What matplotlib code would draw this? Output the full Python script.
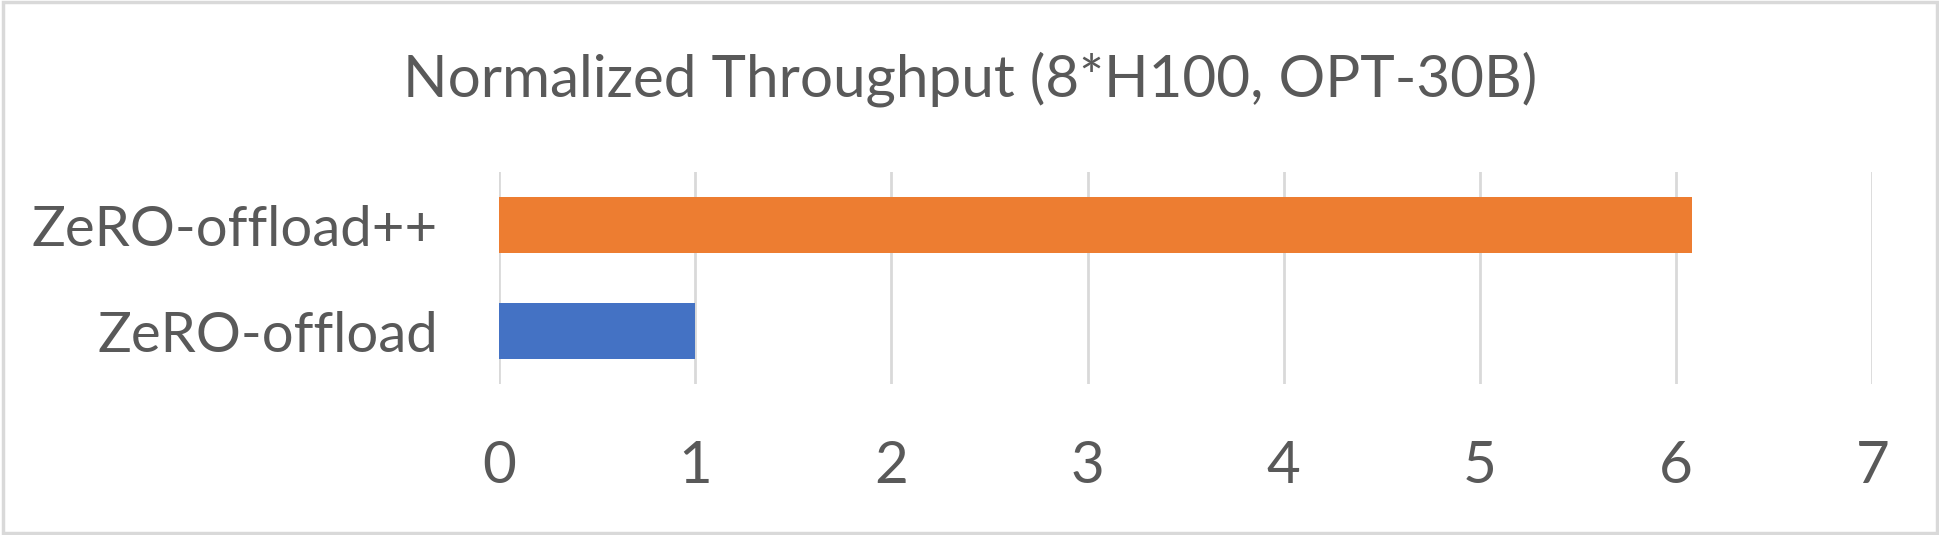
import matplotlib
matplotlib.use("Agg")
import matplotlib.pyplot as plt
from matplotlib.patches import Rectangle

# data
categories = ["ZeRO-offload", "ZeRO-offload++"]
throughput = [1.0, 6.08]
bar_colors = ["#4472C4", "#ED7D31"]
x_ticks = [0, 1, 2, 3, 4, 5, 6, 7]
title = "Normalized Throughput (8*H100, OPT-30B)"

text_color = "#595959"
grid_color = "#D9D9D9"

plt.rcParams["font.family"] = ["Lato", "DejaVu Sans"]

fig = plt.figure(figsize=(19.4, 5.35), dpi=100)
ax = fig.add_axes([0.2572, 0.2822, 0.7079, 0.3963])

ax.barh(range(len(categories)), throughput, height=0.53, color=bar_colors, zorder=3)

ax.set_xlim(0, 7)
ax.set_ylim(-0.5, 1.5)
ax.set_xticks(x_ticks)
ax.set_xticklabels([str(t) for t in x_ticks])
ax.set_yticks(range(len(categories)))
ax.set_yticklabels(categories)

ax.grid(axis="x", color=grid_color, linewidth=2, zorder=0)
for s in ax.spines.values():
    s.set_visible(False)
ax.tick_params(axis="both", length=0, labelcolor=text_color)
ax.tick_params(axis="x", labelsize=42, pad=40)
ax.tick_params(axis="y", labelsize=40.5, pad=44)

fig.text(0.5, 0.8187, title, ha="center", va="baseline", fontsize=42, color=text_color)

# light outer frame like the Excel chart area
fig.patches.append(Rectangle((0.0015, 0.003), 0.997, 0.994, transform=fig.transFigure,
                             fill=False, edgecolor=grid_color, linewidth=2.5))

fig.savefig("out.png", dpi=100)
